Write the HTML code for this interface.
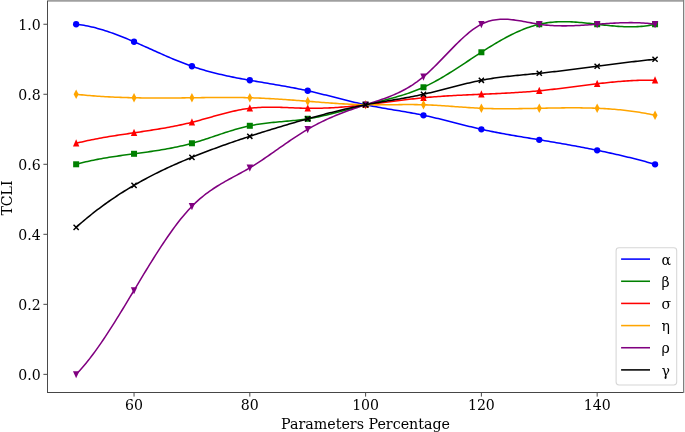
<!DOCTYPE html>
<html><head><meta charset="utf-8"><title>TCLI vs Parameters Percentage</title>
<style>html,body{margin:0;padding:0;background:#fff}svg{display:block}</style></head>
<body>
<svg width="685" height="432" viewBox="0 0 685 432">
<rect width="685" height="432" fill="#fff"/>
<defs><clipPath id="ax"><rect x="47.75" y="0.50" width="636.15" height="391.80"/></clipPath></defs>
<g clip-path="url(#ax)" fill="none" stroke-linejoin="round" stroke-linecap="butt">
<path d="M76.15 24.25L78.09 24.47L80.02 24.73L81.96 25.01L83.89 25.33L85.83 25.68L87.77 26.06L89.70 26.47L91.64 26.91L93.58 27.37L95.51 27.86L97.45 28.38L99.38 28.92L101.32 29.48L103.26 30.07L105.19 30.68L107.13 31.31L109.06 31.96L111.00 32.63L112.94 33.31L114.87 34.02L116.81 34.74L118.74 35.48L120.68 36.23L122.62 37.00L124.55 37.78L126.49 38.57L128.43 39.37L130.36 40.18L132.30 41.01L134.23 41.84L136.17 42.68L138.11 43.52L140.04 44.38L141.98 45.23L143.91 46.09L145.85 46.96L147.79 47.83L149.72 48.69L151.66 49.56L153.59 50.43L155.53 51.30L157.47 52.17L159.40 53.03L161.34 53.89L163.28 54.74L165.21 55.59L167.15 56.43L169.08 57.27L171.02 58.10L172.96 58.91L174.89 59.72L176.83 60.52L178.76 61.30L180.70 62.08L182.64 62.84L184.57 63.58L186.51 64.31L188.44 65.02L190.38 65.72L192.32 66.40L194.25 67.06L196.19 67.70L198.13 68.32L200.06 68.93L202.00 69.52L203.93 70.09L205.87 70.65L207.81 71.19L209.74 71.72L211.68 72.24L213.61 72.74L215.55 73.23L217.49 73.70L219.42 74.17L221.36 74.62L223.30 75.06L225.23 75.49L227.17 75.91L229.10 76.32L231.04 76.73L232.98 77.12L234.91 77.51L236.85 77.89L238.78 78.26L240.72 78.62L242.66 78.98L244.59 79.33L246.53 79.68L248.46 80.03L250.40 80.37L252.34 80.70L254.27 81.04L256.21 81.37L258.15 81.70L260.08 82.03L262.02 82.35L263.95 82.68L265.89 83.00L267.83 83.33L269.76 83.65L271.70 83.98L273.63 84.31L275.57 84.64L277.51 84.97L279.44 85.30L281.38 85.64L283.31 85.98L285.25 86.33L287.19 86.68L289.12 87.03L291.06 87.39L293.00 87.76L294.93 88.13L296.87 88.51L298.80 88.89L300.74 89.29L302.68 89.69L304.61 90.10L306.55 90.51L308.48 90.94L310.42 91.38L312.36 91.82L314.29 92.28L316.23 92.74L318.17 93.20L320.10 93.67L322.04 94.15L323.97 94.63L325.91 95.12L327.85 95.61L329.78 96.10L331.72 96.59L333.65 97.09L335.59 97.58L337.53 98.07L339.46 98.57L341.40 99.06L343.33 99.55L345.27 100.03L347.21 100.51L349.14 100.99L351.08 101.46L353.02 101.93L354.95 102.39L356.89 102.84L358.82 103.29L360.76 103.72L362.70 104.15L364.63 104.57L366.57 104.97L368.50 105.37L370.44 105.76L372.38 106.13L374.31 106.50L376.25 106.86L378.18 107.22L380.12 107.56L382.06 107.91L383.99 108.24L385.93 108.58L387.87 108.91L389.80 109.24L391.74 109.56L393.67 109.89L395.61 110.21L397.55 110.53L399.48 110.86L401.42 111.19L403.35 111.52L405.29 111.85L407.23 112.19L409.16 112.53L411.10 112.88L413.03 113.23L414.97 113.59L416.91 113.96L418.84 114.33L420.78 114.72L422.72 115.11L424.65 115.52L426.59 115.94L428.52 116.36L430.46 116.80L432.40 117.24L434.33 117.69L436.27 118.15L438.20 118.62L440.14 119.09L442.08 119.56L444.01 120.04L445.95 120.53L447.89 121.02L449.82 121.51L451.76 122.00L453.69 122.49L455.63 122.98L457.57 123.48L459.50 123.97L461.44 124.46L463.37 124.95L465.31 125.44L467.25 125.92L469.18 126.40L471.12 126.87L473.05 127.34L474.99 127.80L476.93 128.26L478.86 128.71L480.80 129.15L482.74 129.58L484.67 130.00L486.61 130.42L488.54 130.83L490.48 131.23L492.42 131.62L494.35 132.00L496.29 132.38L498.22 132.75L500.16 133.12L502.10 133.48L504.03 133.84L505.97 134.19L507.90 134.53L509.84 134.87L511.78 135.21L513.71 135.55L515.65 135.88L517.59 136.20L519.52 136.53L521.46 136.85L523.39 137.18L525.33 137.49L527.27 137.81L529.20 138.13L531.14 138.45L533.07 138.77L535.01 139.08L536.95 139.40L538.88 139.72L540.82 140.04L542.76 140.36L544.69 140.68L546.63 141.01L548.56 141.33L550.50 141.66L552.44 141.99L554.37 142.32L556.31 142.65L558.24 142.99L560.18 143.32L562.12 143.66L564.05 144.00L565.99 144.35L567.92 144.69L569.86 145.04L571.80 145.39L573.73 145.75L575.67 146.11L577.61 146.47L579.54 146.83L581.48 147.19L583.41 147.56L585.35 147.94L587.29 148.31L589.22 148.69L591.16 149.08L593.09 149.46L595.03 149.85L596.97 150.25L598.90 150.64L600.84 151.05L602.77 151.45L604.71 151.86L606.65 152.28L608.58 152.70L610.52 153.12L612.46 153.55L614.39 153.98L616.33 154.42L618.26 154.86L620.20 155.31L622.14 155.76L624.07 156.22L626.01 156.68L627.94 157.15L629.88 157.62L631.82 158.10L633.75 158.58L635.69 159.07L637.62 159.56L639.56 160.06L641.50 160.57L643.43 161.08L645.37 161.60L647.31 162.13L649.24 162.66L651.18 163.20L653.11 163.74L655.05 164.29" stroke="#0000ff" stroke-width="1.55"/>
<circle cx="76.15" cy="24.25" r="3.15" fill="#0000ff"/>
<circle cx="134.04" cy="41.75" r="3.15" fill="#0000ff"/>
<circle cx="191.93" cy="66.26" r="3.15" fill="#0000ff"/>
<circle cx="249.82" cy="80.27" r="3.15" fill="#0000ff"/>
<circle cx="307.71" cy="90.77" r="3.15" fill="#0000ff"/>
<circle cx="365.60" cy="104.77" r="3.15" fill="#0000ff"/>
<circle cx="423.49" cy="115.28" r="3.15" fill="#0000ff"/>
<circle cx="481.38" cy="129.28" r="3.15" fill="#0000ff"/>
<circle cx="539.27" cy="139.78" r="3.15" fill="#0000ff"/>
<circle cx="597.16" cy="150.29" r="3.15" fill="#0000ff"/>
<circle cx="655.05" cy="164.29" r="3.15" fill="#0000ff"/>
<path d="M76.15 164.29L78.09 163.76L80.02 163.25L81.96 162.76L83.89 162.29L85.83 161.83L87.77 161.38L89.70 160.95L91.64 160.54L93.58 160.14L95.51 159.75L97.45 159.37L99.38 159.01L101.32 158.66L103.26 158.32L105.19 157.98L107.13 157.66L109.06 157.35L111.00 157.04L112.94 156.74L114.87 156.45L116.81 156.16L118.74 155.88L120.68 155.61L122.62 155.33L124.55 155.07L126.49 154.80L128.43 154.54L130.36 154.28L132.30 154.02L134.23 153.76L136.17 153.50L138.11 153.24L140.04 152.98L141.98 152.72L143.91 152.45L145.85 152.19L147.79 151.91L149.72 151.64L151.66 151.36L153.59 151.07L155.53 150.77L157.47 150.47L159.40 150.17L161.34 149.85L163.28 149.53L165.21 149.19L167.15 148.85L169.08 148.49L171.02 148.13L172.96 147.75L174.89 147.36L176.83 146.95L178.76 146.54L180.70 146.10L182.64 145.66L184.57 145.19L186.51 144.72L188.44 144.22L190.38 143.71L192.32 143.18L194.25 142.63L196.19 142.06L198.13 141.48L200.06 140.89L202.00 140.28L203.93 139.66L205.87 139.03L207.81 138.40L209.74 137.76L211.68 137.12L213.61 136.47L215.55 135.82L217.49 135.17L219.42 134.52L221.36 133.88L223.30 133.24L225.23 132.61L227.17 131.98L229.10 131.37L231.04 130.76L232.98 130.17L234.91 129.59L236.85 129.03L238.78 128.49L240.72 127.96L242.66 127.45L244.59 126.97L246.53 126.51L248.46 126.07L250.40 125.66L252.34 125.27L254.27 124.92L256.21 124.58L258.15 124.27L260.08 123.98L262.02 123.70L263.95 123.45L265.89 123.21L267.83 122.98L269.76 122.77L271.70 122.57L273.63 122.37L275.57 122.19L277.51 122.01L279.44 121.83L281.38 121.66L283.31 121.49L285.25 121.32L287.19 121.14L289.12 120.97L291.06 120.79L293.00 120.60L294.93 120.40L296.87 120.19L298.80 119.98L300.74 119.74L302.68 119.50L304.61 119.24L306.55 118.95L308.48 118.65L310.42 118.33L312.36 118.00L314.29 117.64L316.23 117.26L318.17 116.87L320.10 116.47L322.04 116.04L323.97 115.61L325.91 115.16L327.85 114.70L329.78 114.23L331.72 113.75L333.65 113.27L335.59 112.77L337.53 112.27L339.46 111.76L341.40 111.24L343.33 110.73L345.27 110.20L347.21 109.68L349.14 109.16L351.08 108.63L353.02 108.11L354.95 107.58L356.89 107.06L358.82 106.54L360.76 106.03L362.70 105.52L364.63 105.02L366.57 104.53L368.50 104.04L370.44 103.56L372.38 103.08L374.31 102.60L376.25 102.13L378.18 101.66L380.12 101.18L382.06 100.70L383.99 100.22L385.93 99.74L387.87 99.24L389.80 98.74L391.74 98.23L393.67 97.71L395.61 97.17L397.55 96.62L399.48 96.06L401.42 95.48L403.35 94.88L405.29 94.26L407.23 93.63L409.16 92.97L411.10 92.28L413.03 91.58L414.97 90.84L416.91 90.08L418.84 89.29L420.78 88.47L422.72 87.62L424.65 86.73L426.59 85.82L428.52 84.87L430.46 83.89L432.40 82.88L434.33 81.85L436.27 80.79L438.20 79.71L440.14 78.60L442.08 77.47L444.01 76.32L445.95 75.16L447.89 73.98L449.82 72.78L451.76 71.56L453.69 70.34L455.63 69.10L457.57 67.85L459.50 66.60L461.44 65.34L463.37 64.07L465.31 62.80L467.25 61.52L469.18 60.24L471.12 58.97L473.05 57.69L474.99 56.42L476.93 55.15L478.86 53.89L480.80 52.63L482.74 51.39L484.67 50.15L486.61 48.92L488.54 47.71L490.48 46.51L492.42 45.32L494.35 44.15L496.29 43.00L498.22 41.86L500.16 40.75L502.10 39.65L504.03 38.58L505.97 37.53L507.90 36.50L509.84 35.50L511.78 34.53L513.71 33.58L515.65 32.66L517.59 31.77L519.52 30.92L521.46 30.09L523.39 29.30L525.33 28.55L527.27 27.83L529.20 27.15L531.14 26.50L533.07 25.90L535.01 25.34L536.95 24.82L538.88 24.34L540.82 23.91L542.76 23.52L544.69 23.17L546.63 22.86L548.56 22.60L550.50 22.37L552.44 22.17L554.37 22.01L556.31 21.89L558.24 21.79L560.18 21.73L562.12 21.69L564.05 21.68L565.99 21.70L567.92 21.74L569.86 21.80L571.80 21.89L573.73 21.99L575.67 22.12L577.61 22.25L579.54 22.41L581.48 22.58L583.41 22.76L585.35 22.95L587.29 23.15L589.22 23.35L591.16 23.57L593.09 23.78L595.03 24.00L596.97 24.23L598.90 24.45L600.84 24.67L602.77 24.89L604.71 25.11L606.65 25.31L608.58 25.51L610.52 25.71L612.46 25.89L614.39 26.06L616.33 26.22L618.26 26.36L620.20 26.48L622.14 26.59L624.07 26.68L626.01 26.75L627.94 26.79L629.88 26.82L631.82 26.81L633.75 26.78L635.69 26.72L637.62 26.63L639.56 26.51L641.50 26.36L643.43 26.17L645.37 25.95L647.31 25.69L649.24 25.39L651.18 25.05L653.11 24.67L655.05 24.25" stroke="#008000" stroke-width="1.55"/>
<rect x="73.15" y="161.29" width="6.00" height="6.00" fill="#008000"/>
<rect x="131.04" y="150.79" width="6.00" height="6.00" fill="#008000"/>
<rect x="188.93" y="140.28" width="6.00" height="6.00" fill="#008000"/>
<rect x="246.82" y="122.78" width="6.00" height="6.00" fill="#008000"/>
<rect x="304.71" y="115.78" width="6.00" height="6.00" fill="#008000"/>
<rect x="362.60" y="101.77" width="6.00" height="6.00" fill="#008000"/>
<rect x="420.49" y="84.27" width="6.00" height="6.00" fill="#008000"/>
<rect x="478.38" y="49.26" width="6.00" height="6.00" fill="#008000"/>
<rect x="536.27" y="21.25" width="6.00" height="6.00" fill="#008000"/>
<rect x="594.16" y="21.25" width="6.00" height="6.00" fill="#008000"/>
<rect x="652.05" y="21.25" width="6.00" height="6.00" fill="#008000"/>
<path d="M76.15 143.28L78.09 142.81L80.02 142.34L81.96 141.89L83.89 141.45L85.83 141.02L87.77 140.60L89.70 140.20L91.64 139.80L93.58 139.41L95.51 139.03L97.45 138.67L99.38 138.31L101.32 137.95L103.26 137.61L105.19 137.27L107.13 136.94L109.06 136.61L111.00 136.30L112.94 135.98L114.87 135.67L116.81 135.37L118.74 135.07L120.68 134.77L122.62 134.48L124.55 134.19L126.49 133.90L128.43 133.61L130.36 133.32L132.30 133.04L134.23 132.75L136.17 132.47L138.11 132.18L140.04 131.90L141.98 131.61L143.91 131.32L145.85 131.03L147.79 130.73L149.72 130.43L151.66 130.13L153.59 129.83L155.53 129.52L157.47 129.20L159.40 128.88L161.34 128.56L163.28 128.22L165.21 127.89L167.15 127.54L169.08 127.19L171.02 126.82L172.96 126.45L174.89 126.07L176.83 125.68L178.76 125.29L180.70 124.88L182.64 124.46L184.57 124.03L186.51 123.58L188.44 123.13L190.38 122.66L192.32 122.18L194.25 121.69L196.19 121.18L198.13 120.67L200.06 120.14L202.00 119.61L203.93 119.08L205.87 118.54L207.81 117.99L209.74 117.45L211.68 116.90L213.61 116.36L215.55 115.81L217.49 115.28L219.42 114.75L221.36 114.22L223.30 113.71L225.23 113.20L227.17 112.71L229.10 112.23L231.04 111.76L232.98 111.31L234.91 110.88L236.85 110.46L238.78 110.07L240.72 109.69L242.66 109.34L244.59 109.02L246.53 108.72L248.46 108.45L250.40 108.20L252.34 107.99L254.27 107.81L256.21 107.65L258.15 107.51L260.08 107.40L262.02 107.32L263.95 107.25L265.89 107.20L267.83 107.17L269.76 107.16L271.70 107.16L273.63 107.18L275.57 107.21L277.51 107.25L279.44 107.30L281.38 107.36L283.31 107.43L285.25 107.50L287.19 107.58L289.12 107.66L291.06 107.74L293.00 107.82L294.93 107.90L296.87 107.97L298.80 108.04L300.74 108.11L302.68 108.17L304.61 108.22L306.55 108.26L308.48 108.28L310.42 108.30L312.36 108.31L314.29 108.30L316.23 108.28L318.17 108.25L320.10 108.21L322.04 108.16L323.97 108.10L325.91 108.03L327.85 107.95L329.78 107.86L331.72 107.76L333.65 107.65L335.59 107.53L337.53 107.40L339.46 107.27L341.40 107.13L343.33 106.98L345.27 106.82L347.21 106.65L349.14 106.48L351.08 106.30L353.02 106.12L354.95 105.93L356.89 105.73L358.82 105.53L360.76 105.32L362.70 105.10L364.63 104.88L366.57 104.66L368.50 104.43L370.44 104.20L372.38 103.97L374.31 103.73L376.25 103.48L378.18 103.24L380.12 102.99L382.06 102.75L383.99 102.50L385.93 102.25L387.87 102.00L389.80 101.75L391.74 101.50L393.67 101.25L395.61 101.00L397.55 100.75L399.48 100.51L401.42 100.26L403.35 100.02L405.29 99.79L407.23 99.55L409.16 99.32L411.10 99.09L413.03 98.87L414.97 98.66L416.91 98.44L418.84 98.24L420.78 98.04L422.72 97.85L424.65 97.66L426.59 97.48L428.52 97.31L430.46 97.14L432.40 96.98L434.33 96.83L436.27 96.68L438.20 96.54L440.14 96.40L442.08 96.27L444.01 96.14L445.95 96.01L447.89 95.89L449.82 95.78L451.76 95.67L453.69 95.56L455.63 95.46L457.57 95.35L459.50 95.26L461.44 95.16L463.37 95.07L465.31 94.98L467.25 94.89L469.18 94.80L471.12 94.71L473.05 94.63L474.99 94.54L476.93 94.46L478.86 94.38L480.80 94.29L482.74 94.21L484.67 94.13L486.61 94.05L488.54 93.96L490.48 93.88L492.42 93.79L494.35 93.70L496.29 93.62L498.22 93.53L500.16 93.43L502.10 93.34L504.03 93.24L505.97 93.14L507.90 93.04L509.84 92.93L511.78 92.82L513.71 92.71L515.65 92.59L517.59 92.47L519.52 92.35L521.46 92.22L523.39 92.08L525.33 91.94L527.27 91.80L529.20 91.65L531.14 91.49L533.07 91.33L535.01 91.16L536.95 90.99L538.88 90.81L540.82 90.62L542.76 90.42L544.69 90.22L546.63 90.02L548.56 89.81L550.50 89.59L552.44 89.37L554.37 89.14L556.31 88.91L558.24 88.68L560.18 88.44L562.12 88.20L564.05 87.96L565.99 87.72L567.92 87.47L569.86 87.22L571.80 86.97L573.73 86.72L575.67 86.47L577.61 86.22L579.54 85.97L581.48 85.72L583.41 85.47L585.35 85.22L587.29 84.98L589.22 84.74L591.16 84.49L593.09 84.26L595.03 84.02L596.97 83.79L598.90 83.56L600.84 83.34L602.77 83.12L604.71 82.91L606.65 82.70L608.58 82.49L610.52 82.30L612.46 82.11L614.39 81.92L616.33 81.75L618.26 81.58L620.20 81.42L622.14 81.26L624.07 81.12L626.01 80.98L627.94 80.86L629.88 80.74L631.82 80.63L633.75 80.54L635.69 80.45L637.62 80.38L639.56 80.32L641.50 80.26L643.43 80.23L645.37 80.20L647.31 80.18L649.24 80.18L651.18 80.20L653.11 80.22L655.05 80.27" stroke="#ff0000" stroke-width="1.55"/>
<path d="M76.15 139.28L79.35 146.48L72.95 146.48Z" fill="#ff0000"/>
<path d="M134.04 128.78L137.24 135.98L130.84 135.98Z" fill="#ff0000"/>
<path d="M191.93 118.28L195.13 125.48L188.73 125.48Z" fill="#ff0000"/>
<path d="M249.82 104.27L253.02 111.47L246.62 111.47Z" fill="#ff0000"/>
<path d="M307.71 104.27L310.91 111.47L304.51 111.47Z" fill="#ff0000"/>
<path d="M365.60 100.77L368.80 107.97L362.40 107.97Z" fill="#ff0000"/>
<path d="M423.49 93.77L426.69 100.97L420.29 100.97Z" fill="#ff0000"/>
<path d="M481.38 90.27L484.58 97.47L478.18 97.47Z" fill="#ff0000"/>
<path d="M539.27 86.77L542.47 93.97L536.07 93.97Z" fill="#ff0000"/>
<path d="M597.16 79.77L600.36 86.97L593.96 86.97Z" fill="#ff0000"/>
<path d="M655.05 76.27L658.25 83.47L651.85 83.47Z" fill="#ff0000"/>
<path d="M76.15 94.27L78.09 94.48L80.02 94.68L81.96 94.87L83.89 95.05L85.83 95.23L87.77 95.40L89.70 95.57L91.64 95.72L93.58 95.88L95.51 96.02L97.45 96.16L99.38 96.29L101.32 96.42L103.26 96.54L105.19 96.66L107.13 96.77L109.06 96.87L111.00 96.97L112.94 97.06L114.87 97.15L116.81 97.23L118.74 97.31L120.68 97.39L122.62 97.45L124.55 97.52L126.49 97.58L128.43 97.63L130.36 97.69L132.30 97.73L134.23 97.78L136.17 97.81L138.11 97.85L140.04 97.88L141.98 97.91L143.91 97.93L145.85 97.96L147.79 97.97L149.72 97.99L151.66 98.00L153.59 98.01L155.53 98.02L157.47 98.02L159.40 98.02L161.34 98.02L163.28 98.02L165.21 98.01L167.15 98.00L169.08 97.99L171.02 97.98L172.96 97.97L174.89 97.95L176.83 97.94L178.76 97.92L180.70 97.90L182.64 97.88L184.57 97.86L186.51 97.84L188.44 97.81L190.38 97.79L192.32 97.77L194.25 97.74L196.19 97.72L198.13 97.69L200.06 97.67L202.00 97.64L203.93 97.62L205.87 97.60L207.81 97.58L209.74 97.55L211.68 97.54L213.61 97.52L215.55 97.50L217.49 97.49L219.42 97.48L221.36 97.47L223.30 97.46L225.23 97.46L227.17 97.46L229.10 97.47L231.04 97.47L232.98 97.48L234.91 97.50L236.85 97.52L238.78 97.54L240.72 97.57L242.66 97.60L244.59 97.64L246.53 97.68L248.46 97.73L250.40 97.79L252.34 97.85L254.27 97.91L256.21 97.99L258.15 98.06L260.08 98.14L262.02 98.23L263.95 98.32L265.89 98.42L267.83 98.52L269.76 98.62L271.70 98.73L273.63 98.84L275.57 98.96L277.51 99.08L279.44 99.20L281.38 99.33L283.31 99.46L285.25 99.59L287.19 99.72L289.12 99.86L291.06 100.00L293.00 100.14L294.93 100.29L296.87 100.43L298.80 100.58L300.74 100.73L302.68 100.88L304.61 101.03L306.55 101.18L308.48 101.33L310.42 101.49L312.36 101.64L314.29 101.79L316.23 101.95L318.17 102.10L320.10 102.25L322.04 102.40L323.97 102.55L325.91 102.70L327.85 102.84L329.78 102.98L331.72 103.12L333.65 103.26L335.59 103.39L337.53 103.52L339.46 103.65L341.40 103.77L343.33 103.88L345.27 103.99L347.21 104.10L349.14 104.20L351.08 104.29L353.02 104.38L354.95 104.46L356.89 104.53L358.82 104.60L360.76 104.66L362.70 104.71L364.63 104.75L366.57 104.79L368.50 104.82L370.44 104.84L372.38 104.85L374.31 104.85L376.25 104.85L378.18 104.85L380.12 104.84L382.06 104.82L383.99 104.81L385.93 104.79L387.87 104.77L389.80 104.74L391.74 104.72L393.67 104.70L395.61 104.67L397.55 104.65L399.48 104.63L401.42 104.61L403.35 104.60L405.29 104.59L407.23 104.58L409.16 104.58L411.10 104.58L413.03 104.59L414.97 104.61L416.91 104.63L418.84 104.66L420.78 104.70L422.72 104.75L424.65 104.81L426.59 104.88L428.52 104.96L430.46 105.04L432.40 105.14L434.33 105.24L436.27 105.35L438.20 105.46L440.14 105.58L442.08 105.71L444.01 105.84L445.95 105.97L447.89 106.10L449.82 106.24L451.76 106.38L453.69 106.52L455.63 106.66L457.57 106.80L459.50 106.94L461.44 107.08L463.37 107.22L465.31 107.35L467.25 107.48L469.18 107.61L471.12 107.73L473.05 107.85L474.99 107.96L476.93 108.06L478.86 108.16L480.80 108.25L482.74 108.33L484.67 108.40L486.61 108.47L488.54 108.53L490.48 108.58L492.42 108.62L494.35 108.66L496.29 108.69L498.22 108.71L500.16 108.73L502.10 108.74L504.03 108.75L505.97 108.75L507.90 108.75L509.84 108.74L511.78 108.73L513.71 108.71L515.65 108.69L517.59 108.67L519.52 108.64L521.46 108.62L523.39 108.59L525.33 108.55L527.27 108.52L529.20 108.48L531.14 108.44L533.07 108.40L535.01 108.36L536.95 108.32L538.88 108.28L540.82 108.24L542.76 108.20L544.69 108.16L546.63 108.12L548.56 108.09L550.50 108.05L552.44 108.02L554.37 107.98L556.31 107.95L558.24 107.92L560.18 107.90L562.12 107.88L564.05 107.86L565.99 107.84L567.92 107.83L569.86 107.82L571.80 107.82L573.73 107.82L575.67 107.82L577.61 107.83L579.54 107.85L581.48 107.87L583.41 107.90L585.35 107.93L587.29 107.97L589.22 108.01L591.16 108.07L593.09 108.13L595.03 108.19L596.97 108.27L598.90 108.35L600.84 108.44L602.77 108.54L604.71 108.64L606.65 108.76L608.58 108.88L610.52 109.02L612.46 109.16L614.39 109.32L616.33 109.48L618.26 109.65L620.20 109.84L622.14 110.03L624.07 110.24L626.01 110.46L627.94 110.69L629.88 110.93L631.82 111.19L633.75 111.45L635.69 111.73L637.62 112.02L639.56 112.33L641.50 112.65L643.43 112.98L645.37 113.33L647.31 113.69L649.24 114.06L651.18 114.45L653.11 114.86L655.05 115.28" stroke="#ffa500" stroke-width="1.55"/>
<path d="M76.15 89.57L78.65 94.27L76.15 98.97L73.65 94.27Z" fill="#ffa500"/>
<path d="M134.04 93.07L136.54 97.77L134.04 102.47L131.54 97.77Z" fill="#ffa500"/>
<path d="M191.93 93.07L194.43 97.77L191.93 102.47L189.43 97.77Z" fill="#ffa500"/>
<path d="M249.82 93.07L252.32 97.77L249.82 102.47L247.32 97.77Z" fill="#ffa500"/>
<path d="M307.71 96.57L310.21 101.27L307.71 105.97L305.21 101.27Z" fill="#ffa500"/>
<path d="M365.60 100.07L368.10 104.77L365.60 109.47L363.10 104.77Z" fill="#ffa500"/>
<path d="M423.49 100.07L425.99 104.77L423.49 109.47L420.99 104.77Z" fill="#ffa500"/>
<path d="M481.38 103.57L483.88 108.27L481.38 112.97L478.88 108.27Z" fill="#ffa500"/>
<path d="M539.27 103.57L541.77 108.27L539.27 112.97L536.77 108.27Z" fill="#ffa500"/>
<path d="M597.16 103.57L599.66 108.27L597.16 112.97L594.66 108.27Z" fill="#ffa500"/>
<path d="M655.05 110.58L657.55 115.28L655.05 119.98L652.55 115.28Z" fill="#ffa500"/>
<path d="M76.15 374.35L78.09 372.33L80.02 370.23L81.96 368.05L83.89 365.80L85.83 363.47L87.77 361.08L89.70 358.61L91.64 356.09L93.58 353.50L95.51 350.86L97.45 348.16L99.38 345.40L101.32 342.60L103.26 339.75L105.19 336.85L107.13 333.92L109.06 330.94L111.00 327.93L112.94 324.89L114.87 321.81L116.81 318.71L118.74 315.58L120.68 312.43L122.62 309.26L124.55 306.08L126.49 302.88L128.43 299.67L130.36 296.45L132.30 293.23L134.23 290.00L136.17 286.78L138.11 283.56L140.04 280.34L141.98 277.13L143.91 273.94L145.85 270.75L147.79 267.59L149.72 264.44L151.66 261.32L153.59 258.22L155.53 255.15L157.47 252.12L159.40 249.11L161.34 246.14L163.28 243.22L165.21 240.33L167.15 237.49L169.08 234.70L171.02 231.95L172.96 229.26L174.89 226.63L176.83 224.05L178.76 221.54L180.70 219.09L182.64 216.71L184.57 214.40L186.51 212.16L188.44 210.00L190.38 207.91L192.32 205.91L194.25 203.99L196.19 202.14L198.13 200.38L200.06 198.68L202.00 197.05L203.93 195.49L205.87 193.98L207.81 192.54L209.74 191.14L211.68 189.80L213.61 188.50L215.55 187.24L217.49 186.02L219.42 184.83L221.36 183.68L223.30 182.55L225.23 181.44L227.17 180.35L229.10 179.28L231.04 178.22L232.98 177.17L234.91 176.12L236.85 175.07L238.78 174.02L240.72 172.97L242.66 171.90L244.59 170.81L246.53 169.71L248.46 168.59L250.40 167.44L252.34 166.27L254.27 165.07L256.21 163.84L258.15 162.60L260.08 161.33L262.02 160.04L263.95 158.74L265.89 157.43L267.83 156.10L269.76 154.76L271.70 153.42L273.63 152.07L275.57 150.71L277.51 149.35L279.44 147.99L281.38 146.63L283.31 145.28L285.25 143.93L287.19 142.58L289.12 141.25L291.06 139.93L293.00 138.62L294.93 137.32L296.87 136.04L298.80 134.78L300.74 133.54L302.68 132.32L304.61 131.13L306.55 129.97L308.48 128.83L310.42 127.72L312.36 126.64L314.29 125.59L316.23 124.56L318.17 123.56L320.10 122.58L322.04 121.63L323.97 120.70L325.91 119.80L327.85 118.91L329.78 118.05L331.72 117.20L333.65 116.38L335.59 115.57L337.53 114.78L339.46 114.01L341.40 113.25L343.33 112.51L345.27 111.78L347.21 111.07L349.14 110.37L351.08 109.67L353.02 108.99L354.95 108.32L356.89 107.66L358.82 107.01L360.76 106.36L362.70 105.72L364.63 105.09L366.57 104.46L368.50 103.83L370.44 103.21L372.38 102.58L374.31 101.95L376.25 101.31L378.18 100.66L380.12 100.00L382.06 99.33L383.99 98.63L385.93 97.92L387.87 97.19L389.80 96.43L391.74 95.65L393.67 94.84L395.61 93.99L397.55 93.11L399.48 92.19L401.42 91.24L403.35 90.24L405.29 89.20L407.23 88.11L409.16 86.97L411.10 85.78L413.03 84.53L414.97 83.23L416.91 81.87L418.84 80.45L420.78 78.96L422.72 77.41L424.65 75.78L426.59 74.09L428.52 72.34L430.46 70.54L432.40 68.68L434.33 66.79L436.27 64.86L438.20 62.89L440.14 60.91L442.08 58.90L444.01 56.89L445.95 54.87L447.89 52.85L449.82 50.84L451.76 48.84L453.69 46.86L455.63 44.90L457.57 42.97L459.50 41.09L461.44 39.24L463.37 37.45L465.31 35.71L467.25 34.04L469.18 32.43L471.12 30.89L473.05 29.44L474.99 28.07L476.93 26.80L478.86 25.62L480.80 24.55L482.74 23.59L484.67 22.74L486.61 21.99L488.54 21.34L490.48 20.79L492.42 20.33L494.35 19.96L496.29 19.66L498.22 19.44L500.16 19.30L502.10 19.22L504.03 19.20L505.97 19.25L507.90 19.34L509.84 19.48L511.78 19.67L513.71 19.89L515.65 20.15L517.59 20.44L519.52 20.75L521.46 21.08L523.39 21.43L525.33 21.79L527.27 22.15L529.20 22.52L531.14 22.88L533.07 23.23L535.01 23.57L536.95 23.89L538.88 24.19L540.82 24.47L542.76 24.71L544.69 24.93L546.63 25.12L548.56 25.29L550.50 25.44L552.44 25.56L554.37 25.66L556.31 25.74L558.24 25.80L560.18 25.84L562.12 25.86L564.05 25.87L565.99 25.86L567.92 25.83L569.86 25.79L571.80 25.74L573.73 25.67L575.67 25.59L577.61 25.51L579.54 25.41L581.48 25.30L583.41 25.19L585.35 25.07L587.29 24.95L589.22 24.82L591.16 24.68L593.09 24.54L595.03 24.40L596.97 24.26L598.90 24.12L600.84 23.98L602.77 23.85L604.71 23.71L606.65 23.58L608.58 23.45L610.52 23.33L612.46 23.22L614.39 23.11L616.33 23.01L618.26 22.92L620.20 22.84L622.14 22.78L624.07 22.72L626.01 22.68L627.94 22.65L629.88 22.63L631.82 22.64L633.75 22.66L635.69 22.69L637.62 22.75L639.56 22.82L641.50 22.92L643.43 23.04L645.37 23.18L647.31 23.34L649.24 23.53L651.18 23.74L653.11 23.98L655.05 24.25" stroke="#800080" stroke-width="1.55"/>
<path d="M76.15 378.35L79.35 371.15L72.95 371.15Z" fill="#800080"/>
<path d="M134.04 294.33L137.24 287.13L130.84 287.13Z" fill="#800080"/>
<path d="M191.93 210.30L195.13 203.10L188.73 203.10Z" fill="#800080"/>
<path d="M249.82 171.79L253.02 164.59L246.62 164.59Z" fill="#800080"/>
<path d="M307.71 133.28L310.91 126.08L304.51 126.08Z" fill="#800080"/>
<path d="M365.60 108.77L368.80 101.57L362.40 101.57Z" fill="#800080"/>
<path d="M423.49 80.76L426.69 73.56L420.29 73.56Z" fill="#800080"/>
<path d="M481.38 28.25L484.58 21.05L478.18 21.05Z" fill="#800080"/>
<path d="M539.27 28.25L542.47 21.05L536.07 21.05Z" fill="#800080"/>
<path d="M597.16 28.25L600.36 21.05L593.96 21.05Z" fill="#800080"/>
<path d="M655.05 28.25L658.25 21.05L651.85 21.05Z" fill="#800080"/>
<path d="M76.15 227.31L78.09 225.59L80.02 223.90L81.96 222.24L83.89 220.60L85.83 218.98L87.77 217.38L89.70 215.81L91.64 214.26L93.58 212.73L95.51 211.22L97.45 209.73L99.38 208.27L101.32 206.82L103.26 205.40L105.19 204.00L107.13 202.61L109.06 201.25L111.00 199.91L112.94 198.58L114.87 197.27L116.81 195.99L118.74 194.72L120.68 193.47L122.62 192.23L124.55 191.02L126.49 189.82L128.43 188.63L130.36 187.47L132.30 186.32L134.23 185.18L136.17 184.06L138.11 182.96L140.04 181.87L141.98 180.80L143.91 179.74L145.85 178.70L147.79 177.67L149.72 176.65L151.66 175.65L153.59 174.66L155.53 173.68L157.47 172.71L159.40 171.76L161.34 170.82L163.28 169.89L165.21 168.97L167.15 168.06L169.08 167.16L171.02 166.28L172.96 165.40L174.89 164.53L176.83 163.68L178.76 162.83L180.70 161.99L182.64 161.16L184.57 160.34L186.51 159.53L188.44 158.72L190.38 157.92L192.32 157.13L194.25 156.35L196.19 155.57L198.13 154.80L200.06 154.03L202.00 153.28L203.93 152.53L205.87 151.78L207.81 151.04L209.74 150.31L211.68 149.58L213.61 148.86L215.55 148.15L217.49 147.44L219.42 146.73L221.36 146.03L223.30 145.34L225.23 144.65L227.17 143.96L229.10 143.28L231.04 142.61L232.98 141.94L234.91 141.27L236.85 140.61L238.78 139.95L240.72 139.30L242.66 138.65L244.59 138.01L246.53 137.36L248.46 136.73L250.40 136.09L252.34 135.46L254.27 134.83L256.21 134.21L258.15 133.59L260.08 132.97L262.02 132.35L263.95 131.74L265.89 131.13L267.83 130.53L269.76 129.93L271.70 129.33L273.63 128.73L275.57 128.14L277.51 127.55L279.44 126.97L281.38 126.39L283.31 125.81L285.25 125.23L287.19 124.66L289.12 124.09L291.06 123.52L293.00 122.96L294.93 122.40L296.87 121.84L298.80 121.29L300.74 120.74L302.68 120.19L304.61 119.64L306.55 119.10L308.48 118.56L310.42 118.03L312.36 117.49L314.29 116.96L316.23 116.44L318.17 115.92L320.10 115.40L322.04 114.89L323.97 114.38L325.91 113.87L327.85 113.37L329.78 112.87L331.72 112.38L333.65 111.90L335.59 111.42L337.53 110.94L339.46 110.47L341.40 110.01L343.33 109.55L345.27 109.10L347.21 108.66L349.14 108.22L351.08 107.78L353.02 107.36L354.95 106.94L356.89 106.53L358.82 106.13L360.76 105.73L362.70 105.34L364.63 104.96L366.57 104.59L368.50 104.22L370.44 103.86L372.38 103.51L374.31 103.17L376.25 102.83L378.18 102.49L380.12 102.16L382.06 101.83L383.99 101.50L385.93 101.17L387.87 100.85L389.80 100.53L391.74 100.20L393.67 99.88L395.61 99.55L397.55 99.22L399.48 98.89L401.42 98.55L403.35 98.22L405.29 97.87L407.23 97.52L409.16 97.16L411.10 96.80L413.03 96.43L414.97 96.05L416.91 95.66L418.84 95.27L420.78 94.86L422.72 94.44L424.65 94.01L426.59 93.57L428.52 93.12L430.46 92.66L432.40 92.19L434.33 91.71L436.27 91.23L438.20 90.74L440.14 90.24L442.08 89.75L444.01 89.24L445.95 88.74L447.89 88.24L449.82 87.73L451.76 87.23L453.69 86.73L455.63 86.23L457.57 85.73L459.50 85.24L461.44 84.75L463.37 84.27L465.31 83.80L467.25 83.33L469.18 82.88L471.12 82.43L473.05 81.99L474.99 81.57L476.93 81.16L478.86 80.76L480.80 80.38L482.74 80.01L484.67 79.66L486.61 79.32L488.54 79.00L490.48 78.68L492.42 78.39L494.35 78.10L496.29 77.82L498.22 77.56L500.16 77.31L502.10 77.06L504.03 76.82L505.97 76.60L507.90 76.37L509.84 76.16L511.78 75.95L513.71 75.75L515.65 75.55L517.59 75.36L519.52 75.17L521.46 74.98L523.39 74.79L525.33 74.61L527.27 74.42L529.20 74.24L531.14 74.06L533.07 73.87L535.01 73.68L536.95 73.50L538.88 73.30L540.82 73.11L542.76 72.91L544.69 72.70L546.63 72.50L548.56 72.28L550.50 72.07L552.44 71.85L554.37 71.63L556.31 71.41L558.24 71.18L560.18 70.96L562.12 70.72L564.05 70.49L565.99 70.26L567.92 70.02L569.86 69.78L571.80 69.54L573.73 69.29L575.67 69.05L577.61 68.80L579.54 68.55L581.48 68.31L583.41 68.06L585.35 67.80L587.29 67.55L589.22 67.30L591.16 67.05L593.09 66.79L595.03 66.54L596.97 66.29L598.90 66.03L600.84 65.78L602.77 65.53L604.71 65.27L606.65 65.02L608.58 64.77L610.52 64.52L612.46 64.27L614.39 64.02L616.33 63.77L618.26 63.52L620.20 63.28L622.14 63.04L624.07 62.79L626.01 62.55L627.94 62.32L629.88 62.08L631.82 61.85L633.75 61.61L635.69 61.39L637.62 61.16L639.56 60.94L641.50 60.71L643.43 60.50L645.37 60.28L647.31 60.07L649.24 59.86L651.18 59.66L653.11 59.46L655.05 59.26" stroke="#000000" stroke-width="1.55"/>
<path d="M73.55 224.71L78.75 229.91M73.55 229.91L78.75 224.71" stroke="#000000" stroke-width="1.45" fill="none"/>
<path d="M131.44 182.70L136.64 187.90M131.44 187.90L136.64 182.70" stroke="#000000" stroke-width="1.45" fill="none"/>
<path d="M189.33 154.69L194.53 159.89M189.33 159.89L194.53 154.69" stroke="#000000" stroke-width="1.45" fill="none"/>
<path d="M247.22 133.68L252.42 138.88M247.22 138.88L252.42 133.68" stroke="#000000" stroke-width="1.45" fill="none"/>
<path d="M305.11 116.18L310.31 121.38M305.11 121.38L310.31 116.18" stroke="#000000" stroke-width="1.45" fill="none"/>
<path d="M363.00 102.17L368.20 107.37M363.00 107.37L368.20 102.17" stroke="#000000" stroke-width="1.45" fill="none"/>
<path d="M420.89 91.67L426.09 96.87M420.89 96.87L426.09 91.67" stroke="#000000" stroke-width="1.45" fill="none"/>
<path d="M478.78 77.67L483.98 82.87M478.78 82.87L483.98 77.67" stroke="#000000" stroke-width="1.45" fill="none"/>
<path d="M536.67 70.66L541.87 75.86M536.67 75.86L541.87 70.66" stroke="#000000" stroke-width="1.45" fill="none"/>
<path d="M594.56 63.66L599.76 68.86M594.56 68.86L599.76 63.66" stroke="#000000" stroke-width="1.45" fill="none"/>
<path d="M652.45 56.66L657.65 61.86M652.45 61.86L657.65 56.66" stroke="#000000" stroke-width="1.45" fill="none"/>
</g>
<rect x="47" y="0" width="1" height="393" fill="#4a4a4a"/>
<rect x="47" y="392" width="638" height="1" fill="#464646"/>
<rect x="47" y="0" width="638" height="1" fill="#9f9f9f"/>
<rect x="48" y="1" width="635" height="1" fill="#b8b8b8"/>
<rect x="683" y="0" width="1" height="393" fill="#808080"/>
<rect x="684" y="0" width="1" height="393" fill="#dcdcdc"/>
<g fill="#4a4a4a">
<rect x="133.54" y="393" width="1" height="3.6"/>
<rect x="249.32" y="393" width="1" height="3.6"/>
<rect x="365.10" y="393" width="1" height="3.6"/>
<rect x="480.88" y="393" width="1" height="3.6"/>
<rect x="596.66" y="393" width="1" height="3.6"/>
<rect x="43.4" y="373.85" width="3.6" height="1"/>
<rect x="43.4" y="303.83" width="3.6" height="1"/>
<rect x="43.4" y="233.81" width="3.6" height="1"/>
<rect x="43.4" y="163.79" width="3.6" height="1"/>
<rect x="43.4" y="93.77" width="3.6" height="1"/>
<rect x="43.4" y="23.75" width="3.6" height="1"/>
</g>
<g font-family="'DejaVu Serif', 'Liberation Serif', serif" font-size="14.1px" fill="#000">
<text x="134.04" y="410.10" text-anchor="middle">60</text>
<text x="249.82" y="410.10" text-anchor="middle">80</text>
<text x="365.60" y="410.10" text-anchor="middle">100</text>
<text x="481.38" y="410.10" text-anchor="middle">120</text>
<text x="597.16" y="410.10" text-anchor="middle">140</text>
<text x="40.75" y="379.85" text-anchor="end">0.0</text>
<text x="40.75" y="309.83" text-anchor="end">0.2</text>
<text x="40.75" y="239.81" text-anchor="end">0.4</text>
<text x="40.75" y="169.79" text-anchor="end">0.6</text>
<text x="40.75" y="99.77" text-anchor="end">0.8</text>
<text x="40.75" y="29.75" text-anchor="end">1.0</text>
<text x="365.52" y="428.5" text-anchor="middle" font-size="14.25px">Parameters Percentage</text>
<text transform="translate(11.5 198.00) rotate(-90)" text-anchor="middle">TCLI</text>
<rect x="616.1" y="247.8" width="60.60000000000002" height="137.09999999999997" rx="2.9" ry="2.9" fill="#fff" fill-opacity="0.8" stroke="#d6d6d6" stroke-width="1.05"/>
<line x1="621.1" x2="650" y1="259.10" y2="259.10" stroke="#0000ff" stroke-width="1.55"/>
<text x="661.5" y="264.80">α</text>
<line x1="621.1" x2="650" y1="281.26" y2="281.26" stroke="#008000" stroke-width="1.55"/>
<text x="661.5" y="286.96">β</text>
<line x1="621.1" x2="650" y1="303.42" y2="303.42" stroke="#ff0000" stroke-width="1.55"/>
<text x="661.5" y="309.12">σ</text>
<line x1="621.1" x2="650" y1="325.58" y2="325.58" stroke="#ffa500" stroke-width="1.55"/>
<text x="661.5" y="331.28">η</text>
<line x1="621.1" x2="650" y1="347.74" y2="347.74" stroke="#800080" stroke-width="1.55"/>
<text x="661.5" y="353.44">ρ</text>
<line x1="621.1" x2="650" y1="369.90" y2="369.90" stroke="#000000" stroke-width="1.55"/>
<text x="661.5" y="375.60">γ</text>
</g>
</svg>
</body></html>
